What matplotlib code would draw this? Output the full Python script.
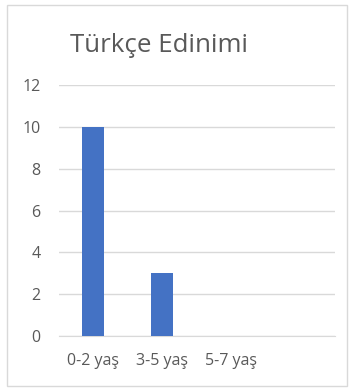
import matplotlib.pyplot as plt
from matplotlib.patches import Rectangle

plt.rcParams['font.family'] = ['Open Sans', 'DejaVu Sans']

# data
categories = ['0-2 yaş', '3-5 yaş', '5-7 yaş', '']
values = [10, 3, 0, 0]
y_ticks = [0, 2, 4, 6, 8, 10, 12]

text_color = '#595959'
grid_color = '#D9D9D9'

fig = plt.figure(figsize=(3.53, 3.90), dpi=100)
fig.patches.append(Rectangle((7 / 353, 4 / 390), 340 / 353, 381 / 390,
                             transform=fig.transFigure, fill=False,
                             edgecolor=grid_color, linewidth=1))

ax = fig.add_axes([0.166, 0.138, 0.782, 0.644])
x = list(range(len(categories)))
ax.bar(x, values, width=0.32, color='#4472C4', zorder=3)

ax.set_xlim(-0.5, len(categories) - 0.5)
ax.set_ylim(0, 12)
ax.set_yticks(y_ticks)
ax.set_xticks(x)
ax.set_xticklabels(categories)
ax.grid(axis='y', color=grid_color, linewidth=1, zorder=0)
for s in ['top', 'right', 'left']:
    ax.spines[s].set_visible(False)
ax.spines['bottom'].set_color(grid_color)
ax.tick_params(axis='both', length=0, labelsize=11.5, colors=text_color)
ax.tick_params(axis='y', pad=13)
ax.tick_params(axis='x', pad=12)

fig.text(159 / 353, (390 - 52) / 390, 'Türkçe Edinimi', ha='center',
         va='baseline', fontsize=18.6, color=text_color)

plt.savefig('out.png', dpi=100)
plt.close()
